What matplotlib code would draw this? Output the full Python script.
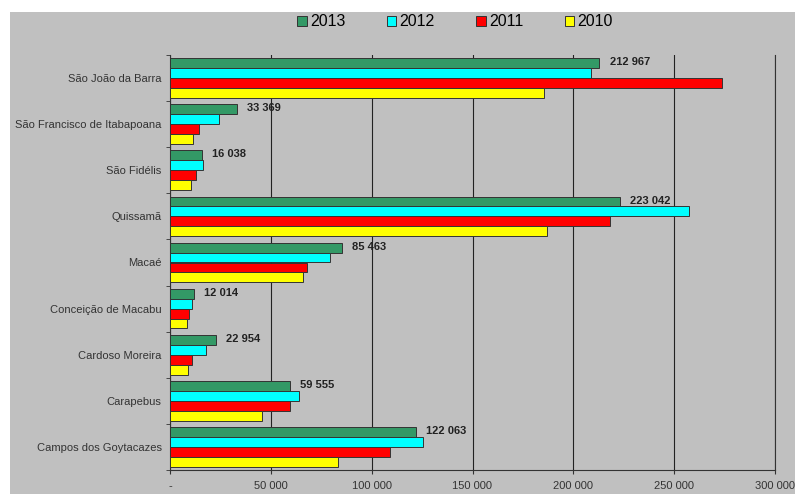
import matplotlib.pyplot as plt
import numpy as np
from matplotlib.patches import Rectangle
from matplotlib.ticker import FuncFormatter

municipios = [
    "São João da Barra",
    "São Francisco de Itabapoana",
    "São Fidélis",
    "Quissamã",
    "Macaé",
    "Conceição de Macabu",
    "Cardoso Moreira",
    "Carapebus",
    "Campos dos Goytacazes",
]
anos = ["2013", "2012", "2011", "2010"]
v2013 = [212967, 33369, 16038, 223042, 85463, 12014, 22954, 59555, 122063]
v2012 = [208800, 24300, 16500, 257400, 79200, 10700, 17700, 64000, 125600]
v2011 = [273800, 14400, 12900, 218300, 67700, 9400, 11000, 59300, 108900]
v2010 = [185600, 11300, 10400, 187100, 66000, 8600, 9100, 45500, 83400]
cores = ["#339966", "#00ffff", "#ff0000", "#ffff00"]


def fmt_milhar(x, pos=None):
    if x == 0:
        return "-"
    return f"{int(x):,}".replace(",", " ")


def main():
    plt.rcParams["font.family"] = ["Liberation Sans", "DejaVu Sans"]
    bg = "#c0c0c0"
    fig = plt.figure(figsize=(7.95, 4.97), dpi=100)
    fig.patch.set_facecolor("white")
    fig.patches.append(Rectangle((10 / 795, 3 / 497), 1 - 10 / 795, 482 / 497,
                                 transform=fig.transFigure, facecolor=bg,
                                 edgecolor="none", zorder=-10))

    ax = fig.add_axes([170 / 795, 1 - 470 / 497, 605 / 795, 415 / 497])
    ax.set_facecolor(bg)

    y = np.arange(len(municipios))
    h = 0.215
    series = [v2013, v2012, v2011, v2010]
    for k, (vals, cor, ano) in enumerate(zip(series, cores, anos)):
        ax.barh(y + (k - 1.5) * h, vals, height=h, color=cor,
                edgecolor="#333333", linewidth=0.7, label=ano, zorder=3)

    for yi, v in zip(y, v2013):
        ax.text(v + 5000, yi - 1.5 * h - 0.02, fmt_milhar(v), fontsize=8,
                fontweight="bold", color="#222222", va="center", ha="left",
                zorder=4)

    ax.set_xlim(0, 300000)
    ax.set_ylim(len(municipios) - 0.5, -0.5)
    ax.set_xticks(np.arange(0, 300001, 50000))
    ax.xaxis.set_major_formatter(FuncFormatter(fmt_milhar))
    ax.grid(axis="x", color="#222222", linewidth=0.8, zorder=1)

    ax.set_yticks(y)
    ax.set_yticklabels(municipios)
    ax.set_yticks(np.arange(-0.5, len(municipios), 1), minor=True)
    ax.tick_params(axis="y", which="major", length=0, pad=6,
                   labelsize=8, labelcolor="#333333")
    ax.tick_params(axis="y", which="minor", length=3, color="#333333")
    ax.tick_params(axis="x", length=3, labelsize=8, labelcolor="#333333",
                   pad=5, color="#333333")

    ax.spines["top"].set_visible(False)
    for s in ["left", "bottom", "right"]:
        ax.spines[s].set_color("#333333")
        ax.spines[s].set_linewidth(0.8)

    fig.legend(loc="center", bbox_to_anchor=(455 / 795, 1 - 22 / 497), ncol=4,
               frameon=False, fontsize=11.5, handlelength=0.6, handleheight=0.6,
               handletextpad=0.2, columnspacing=2.6)

    fig.savefig("out.png", dpi=100, facecolor="white")


if __name__ == "__main__":
    main()
